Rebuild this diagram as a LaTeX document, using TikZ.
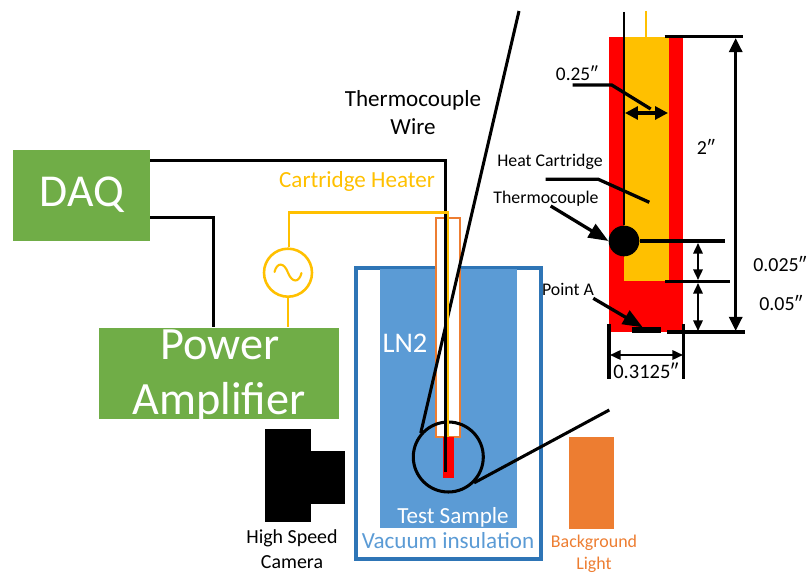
\documentclass[tikz,border=0pt]{standalone}
\usepackage{fontspec}
\setmainfont{Carlito}
\usetikzlibrary{arrows.meta}
\usetikzlibrary{positioning}
\definecolor{blockgreen}{HTML}{70AD47}
\definecolor{heateryellow}{HTML}{FFC000}
\definecolor{tubeorange}{HTML}{ED7D31}
\definecolor{lnblue}{HTML}{5B9BD5}
\definecolor{frameblue}{HTML}{2E75B6}
\tikzset{
  blockbox/.style={fill=blockgreen,draw=none,inner sep=0pt},
  labeltext/.style={font=\fontsize{#1}{#1}\selectfont,inner sep=0pt,align=center},
  labeltext/.default=19.7,
  wire/.style={black,line width=2.6pt},
  heaterwire/.style={heateryellow,line width=2.2pt},
  dimline/.style={black,line width=2.8pt},
  bigdim/.style={black,line width=2.8pt,{Triangle[length=12pt,width=11pt]}-{Triangle[length=12pt,width=11pt]}},
  smalldim/.style={black,line width=1.7pt,{Triangle[length=9pt,width=8pt]}-{Triangle[length=9pt,width=8pt]}},
  pointer/.style={black,line width=2.8pt,-{Triangle[length=17pt,width=13pt]}}
}
\begin{document}
\begin{tikzpicture}[x=0.03cm,y=-0.03cm]
\useasboundingbox (0,0) rectangle (809,573);
% blocks
\node[blockbox,minimum width=4.12cm,minimum height=2.73cm] (daq) at (81.3,195.2) {};
\node[labeltext=39,text=white] (daqtext) at (82,195) {DAQ};
\node[blockbox,minimum width=7.22cm,minimum height=2.73cm] (amp) at (219,373.2) {};
\node[labeltext=39.5,text=white] (amptop) at (220,345) {Power};
\node[labeltext=39.5,text=white] (ampbot) at (219,402) {Amplifier};
% vessel
\draw[frameblue,line width=2.6pt] (356,268) rectangle (541,559);
\draw[fill=lnblue,draw=none] (380,269.5) rectangle (517,527.7);
\draw[fill=white,draw=tubeorange,line width=1.9pt] (436,218) rectangle (460,437);
\draw[fill=red,draw=none] (442.7,437) rectangle (454,478);
% wires
\coordinate (daqhigh) at (150,160.7);
\coordinate (daqlow) at (150,217.7);
\coordinate (wiretip) at (445.7,472);
\coordinate (heatertip) at (448,437);
\node[circle,draw=heateryellow,line width=2.2pt,minimum size=1.44cm,inner sep=0pt] (source) at (288,272.7) {};
\draw[heateryellow,line width=1.8pt,line cap=round] (274.5,272) .. controls (277,262) and (284,262) .. (288,272.7) .. controls (292,283) and (299,283) .. (301.5,273);
% zoom lens
\node[circle,draw=black,line width=2.6pt,minimum size=2.1cm,inner sep=0pt] (lens) at (448.3,457) {};
\coordinate (detailtop) at (519,11);
\coordinate (detailbot) at (609.3,410);
\draw[wire] (lens.139) -- (detailtop);
\draw[wire] (lens.-45) -- (detailbot);
\draw[wire] (daqhigh) -| (wiretip);
\draw[wire] (daqlow) -| (amp.north -| 213.3,0);
\draw[heaterwire] (source.north -| 289,0) |- (heatertip |- 0,212.3) -- (heatertip);
\draw[heaterwire] (source.south) -- (amp.north -| source.south);
% camera and light
\draw[fill=black,draw=none] (265,428.7) rectangle (310.7,522.3);
\draw[fill=black,draw=none] (310.7,450.7) rectangle (345,504);
\draw[fill=tubeorange,draw=none] (569,436.7) rectangle (614,529);
% sample detail
\draw[fill=red,draw=none] (609,36.7) rectangle (683.3,332);
\draw[fill=heateryellow,draw=none] (624,36.7) rectangle (668.7,281);
\node[circle,fill=black,minimum size=0.92cm,inner sep=0pt] (bead) at (624,241) {};
\coordinate (beadwire) at (624,12);
\coordinate (heaterlead) at (646,11);
\draw[black,line width=2.3pt] (beadwire) -- (bead);
\draw[heateryellow,line width=1.7pt] (heaterlead) -- (646,36.7);
% dimension lines
\coordinate (dimtop) at (664.7,36.5);
\coordinate (dimbot) at (667,332);
\coordinate (dimmid) at (665,281.5);
\draw[dimline] (dimtop) -- (742.7,36.5);
\draw[dimline] (dimbot) -- (745,332);
\draw[dimline] (dimmid) -- (730,281.5);
\draw[dimline] (bead) -- (725,241);
\draw[bigdim] (735.7,38) -- (735.7,331);
\draw[smalldim] (698,243) -- (698,280);
\draw[smalldim] (698,283) -- (698,331);
\coordinate (tickleft) at (609,324);
\coordinate (tickright) at (683.7,324);
\draw[dimline] (tickleft) -- (609,379);
\draw[dimline] (tickright) -- (683.7,379);
\draw[smalldim] (610,355) -- (683,355);
\draw[smalldim,line width=2.6pt,{Triangle[length=11pt,width=11pt]}-{Triangle[length=11pt,width=11pt]}] (625,113) -- (668,113);
% leaders
\draw[dimline] (572.7,85) -- (611.7,85) -- (650.7,109);
\draw[dimline] (545.7,179.3) -- (598.3,179.3) -- (649.3,202.3);
\draw[pointer] (550.7,206) -- (bead.west);
\draw[pointer] (593.3,298.3) -- (642.7,327.3);
\draw[black,line width=4.5pt] (631.7,330) -- (660.7,330);
% labels
\node[labeltext] (wirelabel) at (413,113) {Thermocouple\\[4.2pt]Wire};
\node[labeltext,text=heateryellow] (heaterlabel) at (357,181) {Cartridge Heater};
\node[labeltext=24.3,text=white] (lnlabel) at (405,343) {LN2};
\node[labeltext,text=white] (samplelabel) at (453,517) {Test Sample};
\node[labeltext,text=lnblue] (vaclabel) at (448,541) {Vacuum insulation};
\node[labeltext=15.3,text=tubeorange] (lightlabel) at (594,554) {Background\\[3.5pt]Light};
\node[labeltext=17] (cameralabel) at (292,549.5) {High Speed\\[4.3pt]Camera};
\node[labeltext=16.5] (quarterlabel) at (577,73) {0.25″};
\node[labeltext=15.2] (cartlabel) at (550,162) {Heat Cartridge};
\node[labeltext=15.2] (tclabel) at (546,198.5) {Thermocouple};
\node[labeltext=15.2] (pointlabel) at (568,289) {Point A};
\node[labeltext=17] (twolabel) at (706,147) {2″};
\node[labeltext=17] (gaplabel) at (780,264) {0.025″};
\node[labeltext=17] (baselabel) at (781,303) {0.05″};
\node[labeltext=17.5] (widthlabel) at (646,371) {0.3125″};
\end{tikzpicture}
\end{document}
